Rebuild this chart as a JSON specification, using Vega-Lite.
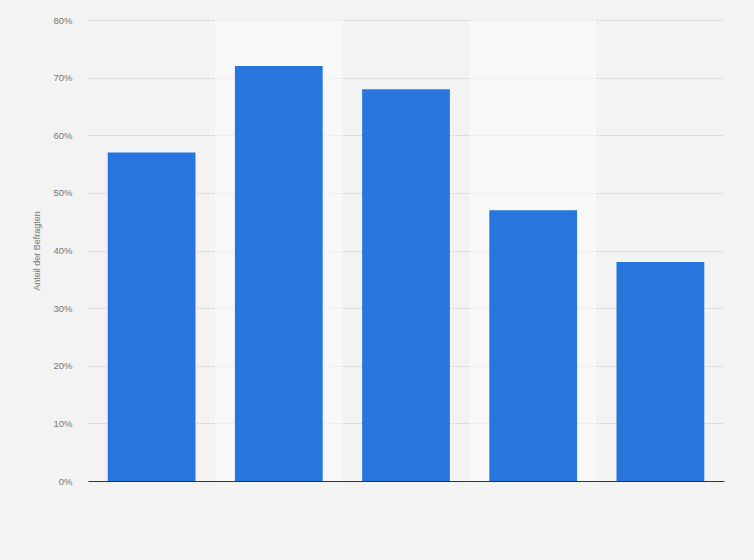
{
  "$schema": "https://vega.github.io/schema/vega-lite/v6.json",
  "width": 636,
  "height": 461,
  "autosize": {"type": "none"},
  "padding": {"left": 88, "top": 20, "right": 30, "bottom": 79},
  "background": "#f3f3f3",
  "data": {
    "values": [
      {"kategorie": "1", "anteil": 57},
      {"kategorie": "2", "anteil": 72},
      {"kategorie": "3", "anteil": 68},
      {"kategorie": "4", "anteil": 47},
      {"kategorie": "5", "anteil": 38}
    ]
  },
  "encoding": {
    "x": {
      "field": "kategorie",
      "type": "nominal",
      "scale": {"domain": ["1", "2", "3", "4", "5"], "paddingInner": 0, "paddingOuter": 0},
      "axis": {
        "title": null,
        "labels": false,
        "ticks": false,
        "domainColor": "#333333",
        "domainWidth": 1.2,
        "grid": false
      }
    }
  },
  "layer": [
    {
      "transform": [{"filter": "datum.kategorie == '2' || datum.kategorie == '4'"}],
      "mark": {"type": "rect", "color": "#ffffff", "opacity": 0.45},
      "encoding": {
        "y": {"datum": 80, "type": "quantitative"},
        "y2": {"datum": 0}
      }
    },
    {
      "mark": {"type": "bar", "color": "#2876dd", "width": {"band": 0.69}},
      "encoding": {
        "y": {
          "field": "anteil",
          "type": "quantitative",
          "scale": {"domain": [0, 80]},
          "axis": {
            "title": "Anteil der Befragten",
            "titleFontSize": 9,
            "titleFontWeight": "normal",
            "titleColor": "#777777",
            "titleFont": "Liberation Sans",
            "titlePadding": 11,
            "values": [0, 10, 20, 30, 40, 50, 60, 70, 80],
            "labelExpr": "datum.value + '%'",
            "labelFont": "Liberation Sans",
            "labelFontSize": 9.5,
            "labelColor": "#777777",
            "labelPadding": 16,
            "ticks": false,
            "domain": false,
            "grid": true,
            "gridColor": "#cccccc",
            "gridDash": [2, 2],
            "gridWidth": 1
          }
        }
      }
    }
  ],
  "config": {"view": {"stroke": null}}
}
